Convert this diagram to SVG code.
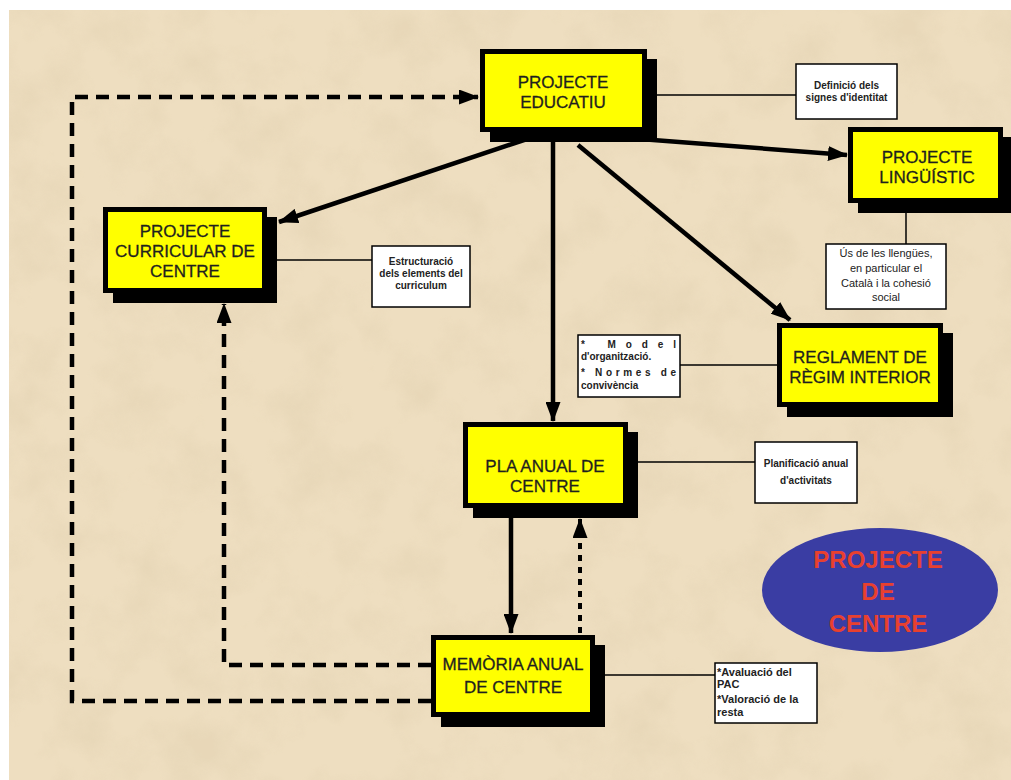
<svg xmlns="http://www.w3.org/2000/svg" width="1011" height="780" viewBox="0 0 1011 780">
<style>
.shadow{fill:#000}
.box{fill:#ffff00;stroke:#000;stroke-width:5}
.ntext{font-family:"Liberation Sans",Arial,sans-serif;font-size:17px;fill:#1f1f1f;stroke:#1f1f1f;stroke-width:0.3;text-anchor:middle}
.note{fill:#fff;stroke:#000;stroke-width:1.5}
.ntxt{font-family:"Liberation Sans",Arial,sans-serif;font-size:10px;font-weight:bold;fill:#222}
.ntxtr{font-family:"Liberation Sans",Arial,sans-serif;font-size:11px;fill:#222;text-anchor:middle}
.link{stroke:#000;stroke-width:1.5;fill:none}
.arrow{stroke:#000;stroke-width:4.5;fill:none}
.dash{stroke:#000;stroke-width:4.5;fill:none;stroke-dasharray:13 8}
.dot{stroke:#000;stroke-width:4;fill:none;stroke-dasharray:6 6}
</style>
<defs>
<marker id="ah" viewBox="0 0 20 15" refX="19" refY="7.5" markerWidth="20" markerHeight="15" markerUnits="userSpaceOnUse" orient="auto">
<path d="M0,0 L20,7.5 L0,15 z" fill="#000"/>
</marker>
<filter id="tex" x="0" y="0" width="1" height="1">
<feTurbulence type="fractalNoise" baseFrequency="0.018" numOctaves="5" seed="7"/>
<feColorMatrix type="matrix" values="0 0 0 0 0.78  0 0 0 0 0.66  0 0 0 0 0.46  2.4 0 0 0 -1.0"/>
</filter>
</defs>
<rect x="0" y="0" width="1011" height="780" fill="#fff"/>
<g id="background">
<rect x="9" y="10" width="1002" height="770" fill="#eedec0"/>
<rect x="9" y="10" width="1002" height="770" filter="url(#tex)" opacity="0.65"/>
</g>
<g id="connectors">
<path class="dash" d="M431,701 H72 V97 H478" marker-end="url(#ah)"/>
<path class="dash" d="M431,665 H224 V304" marker-end="url(#ah)"/>
<path class="arrow" d="M553,142 V421" marker-end="url(#ah)"/>
<path class="arrow" d="M527,139 L279,222" marker-end="url(#ah)"/>
<path class="arrow" d="M640,139 L847,155" marker-end="url(#ah)"/>
<path class="arrow" d="M578,145 L790,320" marker-end="url(#ah)"/>
<path class="arrow" d="M511,518 V633" marker-end="url(#ah)"/>
<path class="dot" d="M580,633 V519" marker-end="url(#ah)"/>
<path class="link" d="M647,95 H796"/>
<path class="link" d="M906,212 V244"/>
<path class="link" d="M277,260 H372"/>
<path class="link" d="M680,365 H777"/>
<path class="link" d="M638,462 H755"/>
<path class="link" d="M605,675 H715"/>
</g>
<g id="projecte-educatiu">
<rect class="shadow" x="490" y="59" width="167" height="83"/>
<rect class="box" x="482.5" y="51.5" width="162" height="78"/>
<text class="ntext" x="563" y="88">PROJECTE</text>
<text class="ntext" x="563" y="108">EDUCATIU</text>
</g>
<g id="projecte-linguistic">
<rect class="shadow" x="858" y="137" width="155" height="76"/>
<rect class="box" x="850.5" y="129.5" width="150" height="71"/>
<text class="ntext" x="927" y="163">PROJECTE</text>
<text class="ntext" x="927" y="183">LINGÜÍSTIC</text>
</g>
<g id="projecte-curricular">
<rect class="shadow" x="113" y="217" width="164" height="86"/>
<rect class="box" x="105.5" y="209.5" width="159" height="81"/>
<text class="ntext" x="185" y="237">PROJECTE</text>
<text class="ntext" x="185" y="257">CURRICULAR DE</text>
<text class="ntext" x="185" y="277">CENTRE</text>
</g>
<g id="reglament">
<rect class="shadow" x="787" y="333" width="166" height="84"/>
<rect class="box" x="779.5" y="325.5" width="161" height="79"/>
<text class="ntext" x="860" y="363">REGLAMENT DE</text>
<text class="ntext" x="860" y="383">RÈGIM INTERIOR</text>
</g>
<g id="pla-anual">
<rect class="shadow" x="473" y="432" width="165" height="86"/>
<rect class="box" x="465.5" y="424.5" width="160" height="81"/>
<text class="ntext" x="545" y="472">PLA ANUAL DE</text>
<text class="ntext" x="545" y="492">CENTRE</text>
</g>
<g id="memoria-anual">
<rect class="shadow" x="441" y="645" width="164" height="82"/>
<rect class="box" x="433.5" y="637.5" width="159" height="77"/>
<text class="ntext" x="513" y="670">MEMÒRIA ANUAL</text>
<text class="ntext" x="513" y="693">DE CENTRE</text>
</g>
<g id="note-definicio">
<rect class="note" x="796" y="64" width="101" height="55"/>
<text class="ntxt" x="846.5" y="89" text-anchor="middle">Definició dels</text>
<text class="ntxt" x="846.5" y="101" text-anchor="middle">signes d'identitat</text>
</g>
<g id="note-us">
<rect class="note" x="826" y="244" width="120" height="65"/>
<text class="ntxtr" x="886" y="257">Ús de les llengües,</text>
<text class="ntxtr" x="886" y="272">en particular el</text>
<text class="ntxtr" x="886" y="287">Català i la cohesió</text>
<text class="ntxtr" x="886" y="301">social</text>
</g>
<g id="note-estructuracio">
<rect class="note" x="372" y="246" width="98" height="61"/>
<text class="ntxt" x="421" y="265" text-anchor="middle">Estructuració</text>
<text class="ntxt" x="421" y="277" text-anchor="middle">dels elements del</text>
<text class="ntxt" x="421" y="289" text-anchor="middle">curriculum</text>
</g>
<g id="note-model">
<rect class="note" x="578" y="335" width="102" height="62"/>
<text class="ntxt" x="581" y="348" textLength="95" lengthAdjust="spacing">* Model</text>
<text class="ntxt" x="581" y="360">d'organització.</text>
<text class="ntxt" x="581" y="376" textLength="95" lengthAdjust="spacing">* Normes de</text>
<text class="ntxt" x="581" y="389">convivència</text>
</g>
<g id="note-planificacio">
<rect class="note" x="755" y="442" width="102" height="61"/>
<text class="ntxt" x="806" y="467" text-anchor="middle">Planificació anual</text>
<text class="ntxt" x="806" y="484" text-anchor="middle">d'activitats</text>
</g>
<g id="note-avaluacio">
<rect class="note" x="715" y="663" width="102" height="60"/>
<text class="ntxt" x="717" y="676" style="font-size:11px">*Avaluació del</text>
<text class="ntxt" x="717" y="688" style="font-size:11px">PAC</text>
<text class="ntxt" x="717" y="703" style="font-size:11px">*Valoració de la</text>
<text class="ntxt" x="717" y="716" style="font-size:11px">resta</text>
</g>
<g id="projecte-de-centre">
<ellipse cx="880" cy="590" rx="118" ry="62" fill="#3a3da3"/>
<g font-family="'Liberation Sans',Arial,sans-serif" font-size="24" font-weight="bold" fill="#e8402f" text-anchor="middle">
<text x="878" y="568">PROJECTE</text>
<text x="878" y="600">DE</text>
<text x="878" y="632">CENTRE</text>
</g>
</g>
</svg>
